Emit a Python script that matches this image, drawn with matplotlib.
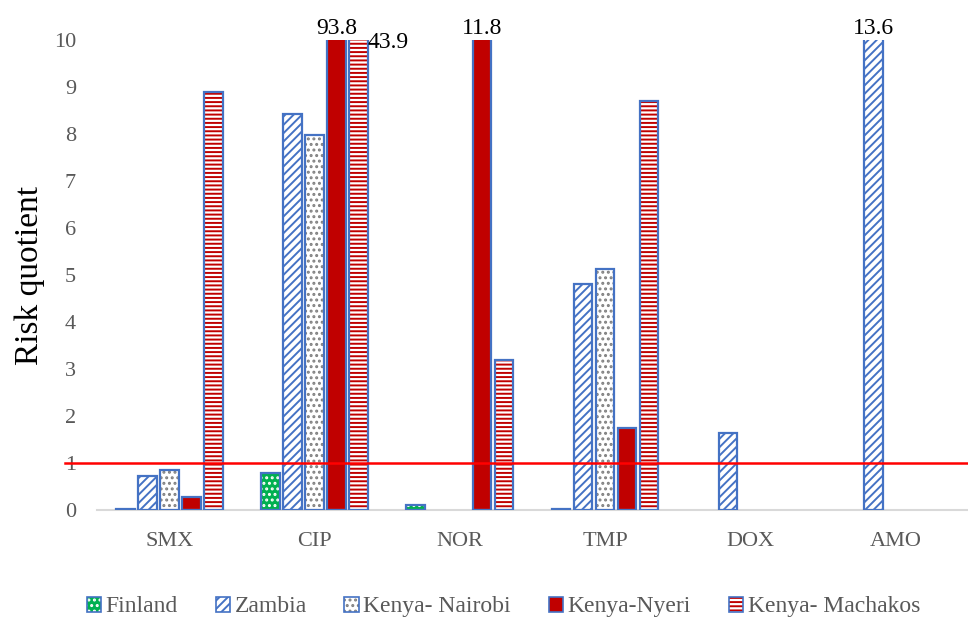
import matplotlib.pyplot as plt
import numpy as np
from matplotlib.patches import Patch

# antibiotic risk quotients per site
drugs = ['SMX', 'CIP', 'NOR', 'TMP', 'DOX', 'AMO']
sites = ['Finland', 'Zambia', 'Kenya- Nairobi', 'Kenya-Nyeri', 'Kenya- Machakos']
finland = [0.02, 0.78, 0.10, 0.03, 0.0, 0.0]
zambia = [0.73, 8.43, 0.0, 4.82, 1.63, 13.6]
nairobi = [0.86, 7.97, 0.0, 5.12, 0.0, 0.0]
nyeri = [0.27, 93.8, 11.8, 1.74, 0.0, 0.0]
machakos = [8.9, 43.9, 3.2, 8.7, 0.0, 0.0]
threshold = 1

series = [finland, zambia, nairobi, nyeri, machakos]
# (face colour, hatch colour, hatch)
styles = [('#00B050', 'white', '...'),
          ('white', '#4472C4', '////'),
          ('white', '#808080', '...'),
          ('#C00000', '#C00000', ''),
          ('white', '#C00000', '----')]
edge = '#4472C4'

plt.rcParams['font.family'] = ['Liberation Serif', 'DejaVu Serif']
plt.rcParams['hatch.linewidth'] = 1.4

fig = plt.figure(figsize=(9.68, 6.17), dpi=100)
ax = fig.add_axes([0.100, 0.1734, 0.900, 0.7616])

x = np.arange(len(drugs))
slot = 0.152
bw = 0.128
for i, vals in enumerate(series):
    fc, hc, hatch = styles[i]
    pos = x + (i - 2) * slot
    vals = np.array(vals)
    lw = np.where(vals > 0, 1.6, 0)
    ax.bar(pos, vals, bw, color=fc, edgecolor=hc, linewidth=0, hatch=hatch, zorder=2)
    ax.bar(pos, vals, bw, fill=False, edgecolor=edge, linewidth=lw, zorder=3)
    # values beyond the axis get their number written on top
    for p, v in zip(pos, vals):
        if v > 10:
            if i == 4:
                ax.annotate(f'{v:.1f}', (p, 10), xytext=(6, -2), textcoords='offset points',
                            ha='left', va='center', fontsize=17, color='black')
            else:
                ax.annotate(f'{v:.1f}', (p, 10), xytext=(0, 1), textcoords='offset points',
                            ha='center', va='bottom', fontsize=17, color='black')

ax.axhline(threshold, xmin=-0.037, xmax=1.0, color='#FF0000', linewidth=1.8, clip_on=False, zorder=4)

ax.set_xlim(-0.5, len(drugs) - 0.5)
ax.set_ylim(0, 10)
ax.set_yticks(range(0, 11))
ax.set_xticks(x)
ax.set_xticklabels(drugs)
ax.tick_params(axis='both', length=0, labelsize=16, labelcolor='#595959')
ax.tick_params(axis='x', pad=16)
ax.tick_params(axis='y', pad=15)
for s in ['top', 'right', 'left']:
    ax.spines[s].set_visible(False)
ax.spines['bottom'].set_color('#D9D9D9')
ax.spines['bottom'].set_linewidth(1.5)
ax.set_ylabel('Risk quotient', fontsize=24, labelpad=6)

handles = []
for i in range(5):
    fc, hc, hatch = styles[i]
    handles.append((Patch(facecolor=fc, edgecolor=hc, hatch=hatch, linewidth=0),
                    Patch(fill=False, edgecolor=edge, linewidth=1.2)))
leg = fig.legend(handles, sites, loc='lower center', bbox_to_anchor=(0.52, -0.035), ncol=5,
                 frameon=False, fontsize=17, handlelength=0.6, handleheight=0.6,
                 handletextpad=0.2, columnspacing=1.6)
for t in leg.get_texts():
    t.set_color('#595959')

fig.savefig('out.png', dpi=100)
